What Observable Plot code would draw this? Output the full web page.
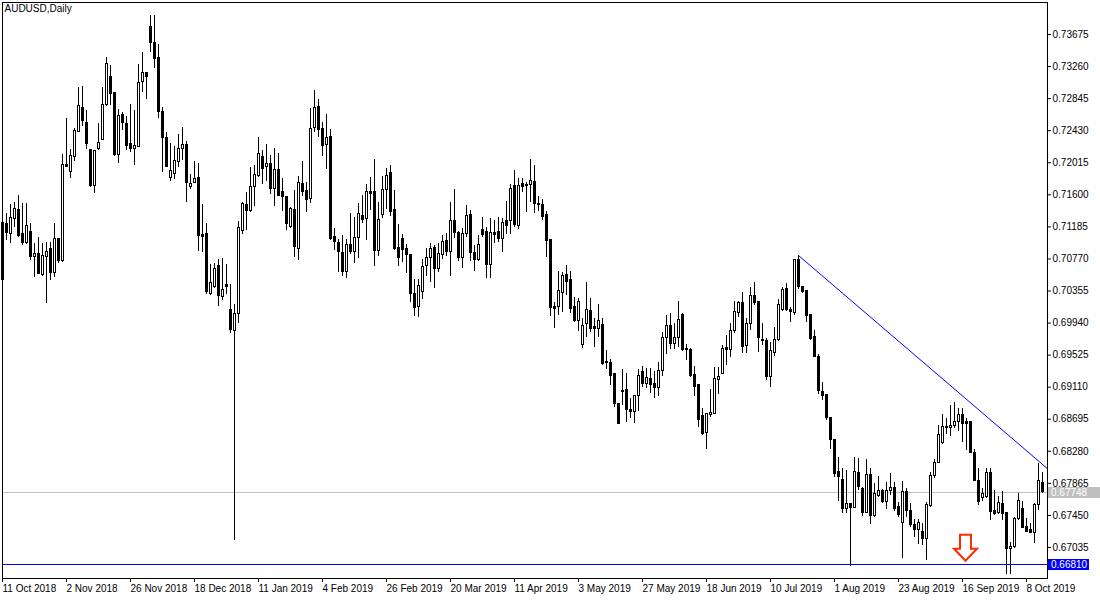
<!DOCTYPE html>
<html><head><meta charset="utf-8">
<script src="https://cdn.jsdelivr.net/npm/d3@7"></script>
<script src="https://cdn.jsdelivr.net/npm/@observablehq/plot@0.6"></script>
<style>html,body{margin:0;padding:0;background:#fff;} svg{display:block}</style>
</head><body><div id="chart"></div>
<script>
const symbolTitle = "AUDUSD,Daily";
const opens = [.71229,.71216,.71099,.71293,.71397,.71099,.70970,.71125,.70789,.70840,.70556,.70789,.70905,.70582,.71022,.70737,.71992,.71889,.72083,.72419,.72730,.72523,.72174,.71708,.72187,.72303,.72756,.73131,.72924,.72109,.72627,.72510,.72264,.72199,.72225,.73054,.73183,.73778,.73571,.73377,.72672,.72329,.71824,.71869,.72023,.72187,.72251,.71701,.71759,.71824,.71086,.71099,.70316,.70413,.70679,.70271,.70439,.70103,.69831,.70051,.71138,.71462,.71384,.71695,.71837,.72083,.71954,.72005,.71669,.71915,.71630,.71569,.71181,.71397,.70905,.71746,.71643,.71552,.72462,.72734,.72458,.72251,.72342,.71060,.70970,.70853,.70598,.70944,.70866,.71038,.71323,.71281,.71634,.71630,.70870,.71341,.71656,.71876,.71397,.70909,.71022,.70905,.70827,.70310,.70145,.70340,.70676,.70780,.70909,.70642,.70827,.70996,.70857,.71255,.71108,.70780,.71095,.71341,.70850,.70750,.71151,.71116,.70694,.71108,.71125,.71022,.71255,.71255,.71708,.71194,.71743,.71721,.71730,.71772,.71484,.71462,.71341,.71009,.70145,.70145,.70332,.70556,.70491,.70145,.69973,.69650,.69931,.70090,.69887,.69857,.69909,.69434,.69426,.69283,.68895,.69067,.69080,.68821,.68786,.68994,.69313,.69154,.69219,.69154,.69100,.69326,.69749,.69896,.69663,.69749,.70038,.69602,.69594,.69274,.69132,.68731,.68515,.68744,.68766,.69206,.69283,.69620,.69594,.69835,.70068,.70197,.69637,.69922,.70284,.70210,.69723,.69714,.69248,.69550,.69723,.70112,.70384,.70112,.70068,.70750,.70413,.70353,.70038,.69766,.69507,.69045,.69003,.68714,.68429,.68010,.67911,.67536,.67592,.67549,.67997,.67795,.67479,.67980,.67449,.67708,.67764,.67622,.67764,.67803,.67557,.67350,.67751,.67505,.67320,.67264,.67233,.67139,.67570,.67958,.68131,.68390,.68601,.68579,.68605,.68666,.68744,.68657,.68657,.68261,.67902,.67673,.67686,.68002,.67514,.67484,.67601,.67484,.67018,.67039,.67407,.67536,.67298,.67268,.67226,.67588,.67873];
const highs = [.71229,.71358,.71475,.71501,.71591,.71488,.71488,.71229,.70970,.71047,.70970,.70983,.70983,.71229,.71035,.72122,.72588,.72187,.72458,.72989,.73002,.72691,.72174,.72174,.72523,.72989,.73377,.73274,.72924,.72704,.72665,.72614,.72769,.72691,.73287,.73442,.73183,.73921,.73921,.73546,.72730,.72407,.72264,.72231,.72381,.72465,.72290,.71869,.72036,.72005,.71481,.71229,.70698,.70711,.70767,.70776,.70698,.70444,.70184,.71255,.71494,.71630,.71954,.71979,.72346,.72174,.72251,.72109,.72199,.72135,.71811,.71569,.71440,.71656,.71841,.72031,.71759,.72721,.72950,.72834,.72536,.72640,.72445,.71164,.71022,.71073,.71022,.71358,.71310,.71488,.71591,.71733,.71828,.72057,.71504,.71841,.71944,.71979,.71656,.71216,.71086,.70957,.70827,.70504,.70504,.70763,.70905,.70970,.70944,.70970,.71073,.71099,.71504,.71669,.71125,.71164,.71462,.71397,.70944,.71073,.71310,.71181,.71290,.71268,.71310,.71290,.71513,.71730,.71915,.71807,.71807,.71763,.72057,.71979,.71582,.71539,.71384,.71009,.70210,.70608,.70598,.70685,.70608,.70275,.70254,.69995,.70469,.70254,.69995,.70177,.70003,.69585,.69468,.69283,.68895,.69339,.69283,.68968,.69003,.69339,.69382,.69348,.69356,.69313,.69434,.69822,.70038,.70068,.69938,.70223,.70068,.69663,.69607,.69378,.69132,.68830,.68766,.69076,.69361,.69361,.69650,.69779,.69930,.70223,.70223,.70340,.69995,.70396,.70469,.70210,.69938,.69736,.69692,.69879,.70241,.70396,.70452,.70145,.70759,.70815,.70413,.70353,.70038,.69844,.69533,.69175,.69003,.68714,.68429,.68204,.68054,.68032,.67601,.68204,.68183,.67808,.68170,.68054,.67868,.67954,.67782,.67880,.67989,.67880,.67622,.67893,.67795,.67609,.67394,.67394,.67342,.67622,.68002,.68174,.68614,.68753,.68701,.68873,.68916,.68838,.68830,.68701,.68657,.68304,.68054,.67803,.68054,.68062,.67773,.67699,.67760,.67492,.67104,.67427,.67730,.67631,.67414,.67342,.67601,.68119,.68010];
const lows = [.70491,.71009,.70970,.71177,.71047,.70944,.70957,.70750,.70530,.70569,.70543,.70193,.70491,.70530,.70711,.70724,.71954,.71811,.72031,.72407,.72484,.72187,.71695,.71617,.72174,.72303,.72743,.72756,.72096,.72005,.72432,.72174,.72148,.71979,.72225,.72924,.72834,.73442,.73235,.72588,.71889,.71954,.71772,.71803,.71954,.72044,.71494,.71669,.71746,.70866,.70853,.70316,.70303,.70391,.70158,.70237,.70316,.69805,.67126,.69928,.71086,.71138,.71375,.71449,.71824,.71733,.71772,.71604,.71453,.71582,.71384,.71138,.71168,.70793,.70750,.71582,.71371,.71488,.72407,.72346,.72100,.71928,.71009,.70879,.70595,.70547,.70521,.70827,.70711,.70780,.71229,.71009,.71397,.70676,.70805,.71293,.71410,.71323,.70879,.70676,.70728,.70582,.70206,.70029,.70016,.70245,.70547,.70469,.70391,.70598,.70763,.70805,.70547,.71031,.70737,.70642,.71051,.70737,.70608,.70737,.71051,.70513,.70521,.70966,.70979,.70857,.71082,.71082,.71181,.71151,.71626,.71375,.71504,.71354,.71384,.71268,.70793,.70029,.69866,.70038,.70081,.70297,.70060,.69951,.69831,.69615,.69757,.69822,.69628,.69757,.69391,.69339,.69132,.68851,.68636,.68873,.68657,.68701,.68636,.68795,.69110,.69089,.69024,.68968,.68990,.69248,.69533,.69594,.69594,.69628,.69576,.69456,.69232,.68990,.68592,.68485,.68300,.68722,.68757,.69015,.69274,.69391,.69498,.69809,.70016,.69550,.69542,.69844,.70167,.69563,.69650,.69197,.69102,.69507,.69705,.70094,.70094,.69951,.70038,.70371,.70319,.69951,.69714,.69490,.69015,.68943,.68679,.68300,.67945,.67634,.67471,.67471,.66795,.67536,.67773,.67436,.67471,.67333,.67427,.67686,.67609,.67523,.67708,.67505,.67427,.66889,.67427,.67298,.67169,.67074,.67061,.66867,.67557,.67932,.68118,.68364,.68494,.68476,.68571,.68537,.68398,.68291,.68248,.67902,.67579,.67631,.67665,.67385,.67449,.67458,.67385,.66682,.66682,.67026,.67385,.67277,.67226,.67212,.67083,.67514,.67730];
const closes = [.70491,.71112,.71306,.71410,.71073,.70970,.71190,.70789,.70840,.70569,.70802,.70866,.70582,.71022,.70737,.71992,.71954,.72096,.72432,.72743,.72549,.72264,.71708,.72161,.72277,.72756,.73287,.72911,.72109,.72614,.72523,.72238,.72199,.72238,.73041,.73183,.73131,.73571,.73364,.72672,.72329,.71954,.71902,.72044,.72187,.72251,.71759,.71746,.71803,.71073,.71060,.70336,.70459,.70646,.70290,.70362,.70413,.69844,.70051,.71164,.71475,.71384,.71695,.71850,.72122,.71935,.72005,.71669,.71915,.71591,.71569,.71216,.71410,.70922,.71759,.71634,.71539,.72458,.72721,.72445,.72229,.72333,.71022,.70987,.70866,.70598,.70944,.70866,.71035,.71358,.71268,.71630,.71608,.70870,.71268,.71656,.71841,.71375,.70901,.70776,.70892,.70827,.70310,.70129,.70426,.70663,.70780,.70905,.70642,.70837,.70983,.70857,.71255,.71108,.70780,.71095,.71332,.70850,.70750,.70944,.71082,.70694,.71108,.71082,.71031,.71238,.71194,.71678,.71203,.71712,.71699,.71712,.71785,.71484,.71462,.71310,.70996,.70132,.70116,.70349,.70547,.70469,.70116,.69973,.70219,.69899,.70103,.69857,.69866,.69973,.69413,.69417,.69261,.68895,.68636,.69054,.68821,.68786,.68994,.69261,.69154,.69226,.69132,.69100,.69326,.69749,.69896,.69663,.69749,.69982,.69594,.69585,.69261,.69119,.68679,.68507,.68757,.68773,.69219,.69248,.69607,.69585,.69835,.70081,.70197,.69628,.69922,.70284,.70197,.69749,.69705,.69248,.69576,.69723,.70180,.70371,.70103,.70081,.70750,.70404,.70340,.70025,.69736,.69507,.69058,.68990,.68714,.68429,.67989,.67945,.67536,.67592,.67549,.68010,.67816,.67479,.67980,.67449,.67730,.67764,.67622,.67764,.67803,.67536,.67462,.67751,.67505,.67320,.67264,.67346,.67148,.67579,.67958,.68131,.68485,.68592,.68588,.68614,.68666,.68753,.68636,.68636,.68261,.67902,.67622,.67730,.68002,.67492,.67471,.67614,.67471,.67018,.67039,.67407,.67631,.67285,.67242,.67226,.67588,.67902,.67748];
const priceTicks = [0.73675,0.73260,0.72845,0.72430,0.72015,0.71600,0.71185,0.70770,0.70355,0.69940,0.69525,0.69110,0.68695,0.68280,0.67865,0.67450,0.67035];
const dateTickBars = [0,16,32,48,64,80,96,112,128,144,160,176,192,208,224,240,256];
const dateTickLabels = ["11 Oct 2018","2 Nov 2018","26 Nov 2018","18 Dec 2018","11 Jan 2019","4 Feb 2019","26 Feb 2019","20 Mar 2019","11 Apr 2019","3 May 2019","27 May 2019","18 Jun 2019","10 Jul 2019","1 Aug 2019","23 Aug 2019","16 Sep 2019","8 Oct 2019"];
const bidPrice = 0.67748;
const supportPrice = 0.66810;
const trendLine = [{bar: 199, price: 0.70815}, {bar: 261.25, price: 0.68055}];
const arrowMark = {bar: 240.75, price: 0.66858};

const candles = opens.map((o, i) => ({i, o, h: highs[i], l: lows[i], c: closes[i], up: closes[i] >= o}));
const fmt = d3.format(".5f");

const chart = Plot.plot({
  width: 1100, height: 600,
  marginLeft: 2, marginRight: 53, marginTop: 2, marginBottom: 22,
  x: {domain: [0, 261.25], axis: null},
  y: {domain: [0.66634, 0.74089], axis: null},
  style: {fontFamily: "'Liberation Sans', Arial, sans-serif", fontSize: "10px", color: "#000", background: "#fff"},
  marks: [
    Plot.ruleY([bidPrice], {stroke: "#c0c0c0", shapeRendering: "crispEdges"}),
    Plot.ruleY([supportPrice], {stroke: "#0000ff", shapeRendering: "crispEdges"}),
    Plot.line(trendLine, {x: "bar", y: "price", stroke: "#0000ff", strokeWidth: 1, clip: true}),
    Plot.ruleX(candles, {x: "i", y1: "l", y2: "h", stroke: "#000", strokeWidth: 1, shapeRendering: "crispEdges"}),
    Plot.rect(candles, {x1: d => d.i - 0.25, x2: d => d.i + 0.5, y1: "o", y2: "c", fill: "#000", insetTop: -0.5, insetBottom: -0.5, shapeRendering: "crispEdges"}),
    Plot.rect(candles.filter(d => d.up), {x1: d => d.i - 0.25, x2: d => d.i + 0.5, y1: "o", y2: "c", fill: "#fff", insetLeft: 1, insetRight: 1, insetTop: 0.5, insetBottom: 0.5, shapeRendering: "crispEdges"}),
    Plot.frame({stroke: "#000", shapeRendering: "crispEdges"}),
    Plot.axisY(priceTicks, {anchor: "right", tickSize: 3, tickPadding: 2, tickFormat: fmt, fontSize: 10}),
    Plot.axisX(dateTickBars, {anchor: "bottom", tickSize: 4, tickPadding: 2, textAnchor: "start", dx: 0, fontSize: 10,
      tickFormat: d => dateTickLabels[dateTickBars.indexOf(d)]}),
    Plot.text([symbolTitle], {frameAnchor: "top-left", dx: 2, dy: 2, textAnchor: "start", lineAnchor: "top", fontSize: 10, fill: "#000"})
  ]
});

const sx = chart.scale("x"), sy = chart.scale("y");
const svg = d3.select(chart);
function priceTag(price, bg, w) {
  const y = Math.round(sy.apply(price));
  svg.append("rect").attr("x", 1048).attr("y", y - 5).attr("width", w).attr("height", 11).attr("fill", bg).attr("shape-rendering", "crispEdges");
  svg.append("text").attr("x", 1051).attr("y", y).attr("dy", "0.36em").attr("fill", "#fff")
    .attr("text-anchor", "start")
    .attr("font-family", "'Liberation Sans', Arial, sans-serif").attr("font-size", 10).text(fmt(price));
}
priceTag(bidPrice, "#c0c0c0", 52);
priceTag(supportPrice, "#0000ff", 41);

const ax = sx.apply(arrowMark.bar) + 0.5, ay = sy.apply(arrowMark.price);
svg.append("path")
  .attr("d", "M-5.5,-26 L5.5,-26 L5.5,-12 L11.5,-12 L0,0 L-11.5,-12 L-5.5,-12 Z")
  .attr("transform", `translate(${ax},${ay})`)
  .attr("fill", "#fff").attr("stroke", "#ff2a00").attr("stroke-width", 2).attr("stroke-linejoin", "miter");

document.getElementById("chart").appendChild(chart);
</script>
</body></html>
